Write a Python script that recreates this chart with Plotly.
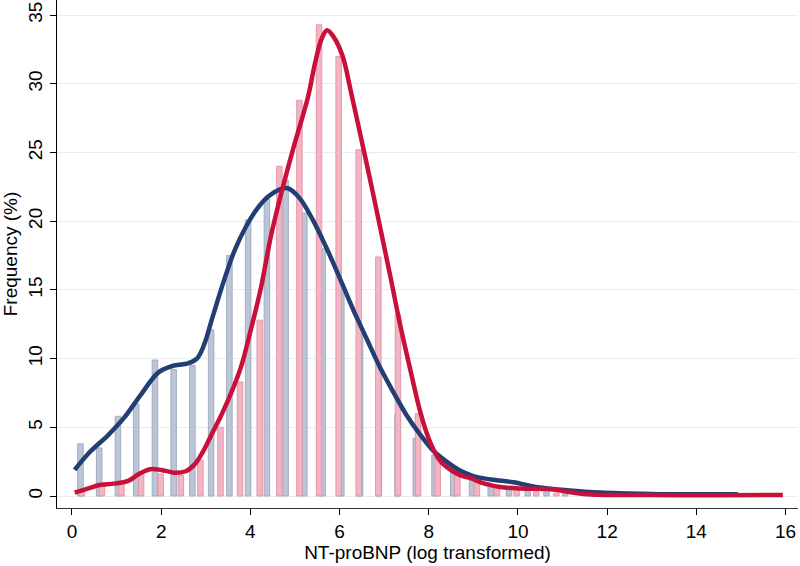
import plotly.graph_objects as go

# ---- Histogram data ----
blue_centers = [0.19, 0.61, 1.03, 1.44, 1.86, 2.28, 2.70, 3.12, 3.53, 3.95, 4.37, 4.79,
                5.21, 5.62, 6.04, 6.46, 6.88, 7.30, 7.71, 8.13, 8.55, 8.97, 9.39, 9.80,
                10.22, 10.64, 11.06]
blue_freq = [3.8, 3.5, 5.8, 6.7, 9.9, 9.2, 9.5, 12.1, 17.5, 20.1, 21.6, 23.0,
             20.6, 18.0, 15.5, 11.8, 8.6, 5.9, 4.2, 3.0, 1.9, 1.3, 0.8, 0.6,
             0.4, 0.3, 0.2]

pink_centers = [0.22, 0.67, 1.11, 1.55, 1.99, 2.44, 2.88, 3.33, 3.77, 4.21, 4.65, 5.10,
                5.54, 5.98, 6.43, 6.87, 7.31, 7.76, 8.20, 8.64, 9.08, 9.53, 9.97, 10.41,
                10.86]
pink_freq = [0.45, 0.8, 0.9, 1.7, 1.6, 1.5, 2.6, 5.0, 8.3, 12.8, 24.0, 28.8,
             34.3, 32.0, 25.2, 17.4, 13.2, 6.0, 3.0, 1.7, 1.1, 0.65, 0.45, 0.3,
             0.2]

# ---- Density curves ----
blue_curve_x = [0.06, 0.4, 0.8, 1.17, 1.55, 1.94, 2.29, 2.6, 2.8, 2.95, 3.15, 3.4, 3.65,
                3.9, 4.15, 4.4, 4.65, 4.84, 5.1, 5.4, 5.7, 6.0, 6.3, 6.6, 6.9,
                7.2, 7.5, 7.8, 8.1, 8.4, 8.7, 9.0, 9.4, 9.9, 10.4, 11.1, 11.85,
                12.97, 14.08, 14.93]
blue_curve_y = [1.9, 3.2, 4.4, 5.7, 7.4, 9.0, 9.5, 9.65, 10.0, 10.9, 13.0, 15.6, 17.9,
                19.6, 20.9, 21.8, 22.3, 22.4, 21.7, 20.1, 18.1, 15.9, 13.6, 11.5, 9.4,
                7.6, 5.9, 4.5, 3.3, 2.5, 1.85, 1.45, 1.2, 1.0, 0.65, 0.42, 0.25,
                0.15, 0.12, 0.12]

red_curve_x = [0.06, 0.37, 0.62, 0.95, 1.26, 1.5, 1.75, 2.0, 2.29, 2.55, 2.75, 2.95,
               3.15, 3.35, 3.57, 3.79, 4.01, 4.24, 4.46, 4.69, 4.98, 5.29, 5.45, 5.6,
               5.72, 5.87, 6.07, 6.25, 6.48, 6.7, 6.92, 7.15, 7.37, 7.6, 7.82, 8.04,
               8.27, 8.49, 8.71, 8.94, 9.16, 9.38, 9.61, 10.06, 10.73, 11.47, 12.97,
               14.5, 15.94]
red_curve_y = [0.25, 0.55, 0.8, 0.9, 1.1, 1.6, 1.95, 1.9, 1.7, 1.8, 2.3, 3.3,
               4.6, 5.9, 7.5, 9.4, 12.1, 15.2, 18.9, 22.0, 25.5, 29.0, 31.5, 33.3,
               33.9, 33.4, 32.0, 29.5, 26.1, 22.8, 19.4, 15.8, 12.3, 9.0, 6.0, 3.85,
               2.5, 1.9, 1.5, 1.3, 1.0, 0.8, 0.65, 0.55, 0.5, 0.15, 0.07,
               0.05, 0.08]

x_ticks = [0, 2, 4, 6, 8, 10, 12, 14, 16]
y_ticks = [0, 5, 10, 15, 20, 25, 30, 35]

fig = go.Figure()
fig.add_trace(go.Bar(x=blue_centers, y=blue_freq, width=0.125,
                     marker=dict(color="#bcc5d6", line=dict(color="#95a1ba", width=0.8)),
                     showlegend=False))
fig.add_trace(go.Bar(x=pink_centers, y=pink_freq, width=0.125,
                     marker=dict(color="#f2b5c3", line=dict(color="#e3899f", width=0.8)),
                     showlegend=False))
fig.add_trace(go.Scatter(x=blue_curve_x, y=blue_curve_y, mode="lines",
                         line=dict(color="#223f74", width=4.5, shape="spline", smoothing=1.0),
                         showlegend=False))
fig.add_trace(go.Scatter(x=red_curve_x, y=red_curve_y, mode="lines",
                         line=dict(color="#c8103a", width=4.5, shape="spline", smoothing=1.0),
                         showlegend=False))

font_family = "Liberation Sans, Arial, sans-serif"
fig.update_layout(
    width=800, height=566,
    margin=dict(l=57, r=2, t=0, b=58, autoexpand=False),
    paper_bgcolor="white", plot_bgcolor="white",
    barmode="overlay",
    font=dict(family=font_family, size=19, color="black"),
    xaxis=dict(range=[-0.336, 16.28], tickvals=x_ticks, ticks="outside", ticklen=6,
               tickcolor="black", showline=True, linecolor="#333333", linewidth=1,
               showgrid=False, zeroline=False, automargin=False,
               tickfont=dict(size=19),
               title=dict(text="NT-proBNP (log transformed)", standoff=4,
                          font=dict(size=19))),
    yaxis=dict(range=[-0.873, 36.1], tickvals=y_ticks, ticks="outside", ticklen=6,
               tickcolor="black", tickangle=-90, showline=True, linecolor="black",
               linewidth=1, showgrid=True, gridcolor="#e5eef0", gridwidth=1,
               zeroline=False, automargin=False, tickfont=dict(size=19),
               title=dict(text="Frequency (%)", standoff=2, font=dict(size=19))),
)

fig.write_html("out.html",
               config={"displayModeBar": False},
               post_script="document.body.style.margin='0';document.body.style.overflow='hidden';")
